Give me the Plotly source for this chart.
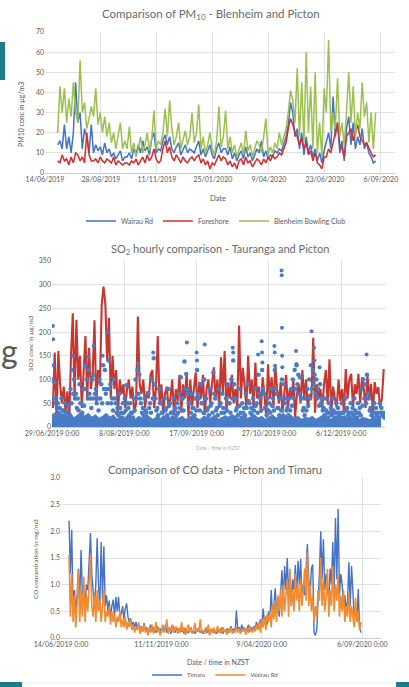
import pandas as pd
import plotly.graph_objects as go

W, H = 409, 687
FONT = "Lato"
GRID = "#D9D9D9"
TXT = "#595959"

# ---------------- PM10 (3-day samples from 1/07/2019) ----------------
pm_start = "2019-07-01"
pm_wairau = [14, 16, 12, 24, 12, 18, 10, 20, 45, 25, 30, 12, 22, 18, 10, 24,
             10, 14, 11, 13, 9, 15, 10, 12, 8, 10, 7, 9, 11, 6, 8,
             8, 10, 7, 12, 9, 14, 10, 16, 11, 13, 9, 17, 20, 10, 12,
             11, 16, 19, 14, 18, 12, 10, 13, 15, 9, 12, 14, 10, 12, 11,
             10, 13, 16, 9, 12, 8, 11, 14, 9, 7, 12, 15, 10, 12,
             12, 9, 13, 7, 10, 6, 9, 11, 7, 13, 8, 10, 6, 9, 12,
             10, 16, 8, 11, 7, 9, 8, 11, 10, 12, 11, 14, 18, 24, 35,
             30, 18, 22, 12, 20, 9, 18, 10, 14, 8, 12, 6, 10, 5, 11,
             15, 20, 12, 38, 18, 25, 10, 16, 6, 22, 28, 14, 25, 12, 18, 14, 22, 12, 15, 10, 8, 5, 6]
pm_foreshore = [6, 5, 9, 6, 7, 4, 8, 5, 10, 9, 6, 8, 5, 20, 9, 6,
                6, 7, 5, 8, 6, 5, 7, 6, 5, 8, 4, 6, 5, 4, 5,
                5, 4, 6, 5, 7, 4, 6, 8, 5, 9, 6, 8, 12, 7, 5,
                6, 12, 16, 10, 13, 8, 6, 9, 7, 5, 8, 6, 5, 7, 8,
                6, 8, 9, 5, 7, 4, 6, 2, 5, 4, 7, 9, 6, 8,
                7, 4, 6, 3, 5, 2, 6, 7, 4, 8, 5, 6, 3, 5, 7,
                6, 4, 7, 5, 8, 6, 9, 7, 8, 10, 9, 12, 15, 22, 27,
                24, 20, 18, 14, 17, 12, 15, 9, 11, 6, 10, 5, 4, 2, 8,
                8, 12, 10, 15, 20, 25, 14, 12, 8, 18, 20, 22, 16, 20, 24, 18, 16, 14, 15, 12, 10, 8, 9]
pm_blenheim = [20, 43, 30, 42, 25, 37, 28, 45, 30, 25, 56, 30, 35, 22, 27, 33,
               28, 42, 24, 30, 20, 28, 18, 25, 15, 20, 12, 18, 25, 12, 16,
               12, 23, 10, 15, 8, 12, 18, 10, 14, 20, 11, 17, 31, 12, 16,
               14, 20, 32, 18, 36, 22, 14, 18, 25, 12, 16, 21, 14, 18, 30,
               15, 20, 34, 12, 18, 10, 14, 20, 12, 9, 16, 33, 13, 18,
               31, 12, 18, 10, 14, 8, 12, 15, 9, 21, 11, 14, 8, 12, 16,
               14, 10, 18, 27, 9, 13, 10, 15, 12, 20, 14, 18, 22, 30, 41,
               36, 25, 52, 18, 45, 15, 60, 20, 43, 12, 50, 10, 25, 8, 42,
               30, 66, 20, 30, 22, 47, 18, 25, 14, 30, 50, 25, 43, 18, 30, 22, 45, 28, 35, 15, 30, 12, 30]
pm_tick_dates = ["2019-06-14", "2019-08-28", "2019-11-11", "2020-01-25",
                 "2020-04-09", "2020-06-23", "2020-09-06"]
pm_tick_labels = ["14/06/2019", "28/08/2019", "11/11/2019", "25/01/2020",
                  "9/04/2020", "23/06/2020", "6/09/2020"]
pm_yticks = [0, 10, 20, 30, 40, 50, 60, 70]

# ---------------- SO2 (daily from 29/06/2019) ----------------
so2_start = "2019-06-29"
so2_red = [40, 157, 20, 160, 90, 50, 85, 30, 75, 10,
           150, 240, 60, 226, 100, 150, 40, 120, 192, 60,
           167, 80, 110, 225, 50, 120, 90, 258, 296, 260,
           140, 230, 60, 150, 80, 120, 30, 100, 70, 90,
           40, 80, 100, 60, 85, 30, 50, 233, 90, 70,
           100, 40, 75, 60, 110, 120, 40, 80, 192, 50,
           90, 30, 70, 85, 40, 60, 100, 25, 80, 55,
           110, 30, 90, 60, 115, 20, 100, 45, 80, 115,
           40, 95, 60, 110, 25, 80, 100, 50, 90, 126,
           60, 100, 40, 147, 70, 160, 30, 90, 60, 110,
           50, 80, 40, 214, 60, 125, 90, 40, 150, 70,
           100, 40, 136, 60, 85, 30, 105, 70, 20, 132,
           60, 105, 40, 130, 80, 50, 95, 30, 70, 110,
           40, 80, 60, 100, 20, 70, 90, 50, 120, 60,
           100, 40, 70, 60, 188, 30, 90, 60, 80, 40,
           90, 120, 50, 143, 30, 85, 60, 40, 100, 55,
           80, 30, 122, 60, 100, 112, 40, 90, 70, 112,
           50, 105, 80, 40, 110, 60, 91, 30, 95, 70,
           84, 40, 60, 122]
so2_blue_upper = [100, 95, 60, 50, 40, 60, 35, 50, 30, 45,
                  80, 120, 100, 70, 60, 90, 50, 80, 130, 100,
                  120, 60, 100, 110, 80, 60, 100, 90, 130, 120,
                  80, 140, 90, 60, 100, 50, 40, 70, 30, 50,
                  60, 88, 40, 50, 30, 60, 100, 120, 110, 50,
                  40, 60, 30, 70, 50, 100, 145, 60, 40, 80,
                  50, 30, 60, 40, 80, 50, 30, 60, 40, 50,
                  70, 105, 60, 138, 112, 80, 50, 70, 40, 60,
                  120, 60, 90, 50, 100, 60, 40, 80, 50, 115,
                  60, 40, 80, 50, 70, 30, 60, 90, 50, 100,
                  140, 60, 40, 80, 30, 50, 40, 70, 91, 50,
                  40, 60, 80, 50, 110, 60, 120, 70, 40, 60,
                  50, 80, 60, 120, 70, 40, 60, 100, 90, 60,
                  40, 60, 80, 100, 120, 130, 110, 105, 60, 40,
                  60, 80, 100, 130, 120, 110, 100, 80, 90, 60,
                  40, 60, 30, 50, 40, 60, 30, 50, 40, 30,
                  50, 30, 60, 40, 30, 50, 40, 60, 30, 50,
                  40, 80, 100, 90, 110, 60, 40, 30, 50, 40,
                  30, 50, 40, 30]
so2_blue_mid = [60, 50, 40, 30, 25, 35, 20, 30, 20, 25,
                50, 70, 60, 40, 35, 50, 30, 45, 80, 60,
                70, 40, 60, 70, 50, 35, 60, 50, 80, 70,
                50, 80, 50, 35, 60, 30, 25, 40, 20, 30,
                35, 50, 25, 30, 20, 35, 60, 70, 60, 30,
                25, 35, 20, 40, 30, 60, 90, 35, 25, 50,
                30, 20, 35, 25, 45, 30, 20, 35, 25, 30,
                40, 60, 35, 80, 70, 50, 30, 40, 25, 35,
                70, 35, 50, 30, 60, 35, 25, 45, 30, 70,
                35, 25, 45, 30, 40, 20, 35, 50, 30, 60,
                90, 35, 25, 45, 20, 30, 25, 40, 55, 30,
                25, 35, 45, 30, 70, 35, 80, 40, 25, 35,
                30, 45, 35, 80, 40, 25, 35, 60, 50, 35,
                25, 35, 45, 60, 80, 90, 70, 60, 35, 25,
                35, 45, 60, 80, 90, 70, 60, 45, 50, 35,
                25, 35, 20, 30, 25, 35, 20, 30, 25, 20,
                30, 20, 35, 25, 20, 30, 25, 35, 20, 30,
                25, 45, 60, 50, 70, 35, 25, 20, 30, 25,
                20, 30, 25, 20]
so2_blue_floor = [25, 30, 20, 28, 22, 30, 18, 25, 30, 22, 28, 20, 25, 18, 22, 28, 20, 25,
                  15, 22, 18, 25, 20, 15, 22, 18, 25, 20, 15, 22, 18, 20, 25, 15, 20, 18,
                  22, 15, 20, 25, 18, 15, 22, 20, 18, 25, 15, 20, 18, 22, 25, 20, 15, 22,
                  18, 20, 25, 18, 22, 15, 20, 25, 18, 22, 28, 20, 25, 18, 22, 15, 20, 18,
                  22, 15, 20, 25, 18, 15, 20, 22, 18, 15, 20, 18, 22, 15, 20, 18, 15, 20,
                  18, 22]
so2_peak_days = [0.5, 0.6, 0.7, 11.6, 20, 23, 28, 31, 47.5, 56, 74.6, 80, 80.2, 84.5,
                 100, 100.2, 114, 116, 116.2, 116.4, 123, 123.2, 123.4, 127, 127.1,
                 127.2, 127.3, 127.4, 135, 135.2, 143.6, 145, 145.2, 148, 174]
so2_peak_values = [213, 185, 130, 150, 148, 171, 150, 200, 135, 157, 178, 157, 140, 174,
                   167, 157, 153, 181, 157, 136, 171, 157, 129, 330, 320,
                   209, 150, 126, 160, 133, 202, 167, 140, 126, 153]
so2_tick_dates = ["2019-06-29", "2019-08-08", "2019-09-17", "2019-10-27", "2019-12-06"]
so2_tick_labels = ["29/06/2019 0:00", "8/08/2019 0:00", "17/09/2019 0:00",
                   "27/10/2019 0:00", "6/12/2019 0:00"]
so2_yticks = [0, 50, 100, 150, 200, 250, 300, 350]

# ---------------- CO (2-day samples from 26/06/2019) ----------------
co_start = "2019-06-26"
co_timaru = [2.2, 1.2, 2.03, 0.6, 0.9, 0.5, 0.8, 1.3, 0.7, 1.65,
             0.8, 1.0, 0.6, 1.0, 0.9, 1.6, 1.97, 1.2, 0.9, 0.6,
             1.0, 1.87, 1.0, 0.6, 1.8, 0.7, 1.72, 0.6, 0.8, 0.5,
             0.7, 0.4, 0.6, 0.72, 0.4, 0.77, 0.5, 0.77, 0.4, 0.45,
             0.6, 0.35, 0.55, 0.65, 0.4, 0.3, 0.37, 0.25, 0.3, 0.2,
             0.3, 0.18, 0.25, 0.15, 0.22, 0.12, 0.28, 0.15, 0.2, 0.1,
             0.18, 0.25, 0.12, 0.2, 0.15, 0.1, 0.22, 0.14, 0.18, 0.1,
             0.2, 0.12, 0.25, 0.1, 0.16, 0.2, 0.08, 0.15, 0.22, 0.1,
             0.14, 0.18, 0.1, 0.2, 0.12, 0.15, 0.08, 0.18, 0.12, 0.1,
             0.15, 0.2, 0.1, 0.14, 0.08, 0.16, 0.12, 0.18, 0.1, 0.13,
             0.08, 0.15, 0.12, 0.1, 0.18, 0.06, 0.12, 0.15, 0.1, 0.14,
             0.08, 0.12, 0.16, 0.1, 0.2, 0.08, 0.14, 0.12, 0.18, 0.1,
             0.15, 0.22, 0.12, 0.18, 0.1, 0.52, 0.15, 0.2, 0.12, 0.25,
             0.15, 0.2, 0.1, 0.18, 0.25, 0.12, 0.2, 0.15, 0.22, 0.18,
             0.3, 0.2, 0.25, 0.35, 0.2, 0.55, 0.3, 0.4, 0.25, 0.5,
             0.35, 0.9, 0.4, 0.6, 0.93, 0.5, 0.7, 0.4, 0.8, 1.27,
             0.7, 1.35, 0.9, 1.5, 0.8, 1.2, 0.6, 1.1, 0.9, 1.37,
             0.8, 1.45, 1.0, 1.48, 0.7, 1.0, 0.8, 1.2, 1.76, 1.1,
             0.8, 1.3, 1.38, 0.1, 0.05, 0.15, 0.6, 1.2, 2.0, 1.1,
             1.85, 0.9, 1.2, 1.0, 0.7, 1.3, 1.0, 1.8, 0.9, 2.25,
             1.1, 2.42, 0.8, 1.2, 1.0, 0.6, 0.8, 0.5, 0.7, 1.42,
             0.6, 1.35, 0.9, 0.4, 0.5, 0.3, 0.92, 0.2, 0.1]
co_wairau = [1.55, 0.4, 1.2, 0.3, 0.8, 0.2, 0.6, 1.25, 0.3, 0.9,
             0.4, 1.15, 0.3, 0.8, 0.5, 1.0, 1.55, 0.6, 0.4, 0.8,
             0.3, 0.9, 0.5, 0.7, 0.3, 0.6, 0.9, 0.3, 0.5, 0.4,
             0.6, 0.25, 0.5, 0.3, 0.45, 0.2, 0.4, 0.3, 0.5, 0.2,
             0.35, 0.2, 0.4, 0.15, 0.3, 0.2, 0.35, 0.15, 0.25, 0.1,
             0.2, 0.15, 0.3, 0.08, 0.2, 0.12, 0.25, 0.1, 0.18, 0.05,
             0.2, 0.1, 0.25, 0.08, 0.15, 0.3, 0.1, 0.2, 0.05, 0.15,
             0.25, 0.1, 0.18, 0.35, 0.08, 0.2, 0.12, 0.25, 0.1, 0.15,
             0.22, 0.08, 0.18, 0.1, 0.3, 0.12, 0.2, 0.06, 0.15, 0.25,
             0.1, 0.2, 0.08, 0.15, 0.28, 0.1, 0.18, 0.12, 0.35, 0.1,
             0.15, 0.08, 0.2, 0.12, 0.25, 0.05, 0.18, 0.1, 0.2, 0.08,
             0.15, 0.22, 0.1, 0.18, 0.08, 0.2, 0.12, 0.15, 0.06, 0.18,
             0.1, 0.2, 0.08, 0.15, 0.12, 0.2, 0.1, 0.18, 0.08, 0.15,
             0.12, 0.2, 0.06, 0.18, 0.1, 0.22, 0.15, 0.1, 0.2, 0.12,
             0.25, 0.15, 0.3, 0.1, 0.35, 0.2, 0.4, 0.15, 0.45, 0.3,
             0.5, 0.2, 0.6, 0.35, 0.7, 0.3, 0.8, 0.5, 0.9, 0.4,
             1.0, 0.5, 0.8, 1.1, 0.4, 1.3, 0.6, 0.9, 0.5, 1.2,
             0.7, 1.0, 0.5, 1.1, 0.6, 0.9, 1.3, 0.7, 1.6, 0.6,
             1.0, 0.5, 0.8, 0.3, 0.6, 0.4, 0.9, 0.7, 1.5, 0.6,
             1.1, 0.5, 0.8, 1.3, 0.4, 0.9, 0.6, 1.35, 0.5, 1.0,
             0.7, 1.2, 0.4, 0.8, 0.5, 0.9, 0.3, 0.6, 0.4, 0.85,
             0.3, 0.6, 0.4, 0.2, 0.75, 0.3, 0.5, 0.15, 0.3]
co_tick_dates = ["2019-06-14", "2019-11-11", "2020-04-09", "2020-09-06"]
co_tick_labels = ["14/06/2019 0:00", "11/11/2019 0:00", "9/04/2020 0:00", "6/09/2020 0:00"]
co_yticks = [0.0, 0.5, 1.0, 1.5, 2.0, 2.5, 3.0]


def px_x(x):
    return x / W


def px_y(y):
    return 1 - y / H


fig = go.Figure()

BLUE_SO2 = "#4A7CC6"

# PM10 traces
pm_d = lambda s: pd.date_range(pm_start, periods=len(s), freq="3D")
fig.add_trace(go.Scatter(x=pm_d(pm_wairau), y=pm_wairau, mode="lines", name="Wairau Rd",
                         line=dict(color="#4472C4", width=1.5), xaxis="x", yaxis="y", legend="legend"))
fig.add_trace(go.Scatter(x=pm_d(pm_foreshore), y=pm_foreshore, mode="lines", name="Foreshore",
                         line=dict(color="#D0302C", width=1.5), xaxis="x", yaxis="y", legend="legend"))
fig.add_trace(go.Scatter(x=pm_d(pm_blenheim), y=pm_blenheim, mode="lines", name="Blenheim Bowling Club",
                         line=dict(color="#9BC04F", width=1.5), xaxis="x", yaxis="y", legend="legend"))

# SO2 traces
so2_t0 = pd.Timestamp(so2_start)
fig.add_trace(go.Scatter(x=pd.date_range(so2_start + " 12:00", periods=len(so2_red), freq="D"),
                         y=so2_red, mode="lines", line=dict(color="#C8372F", width=2.1),
                         xaxis="x2", yaxis="y2", showlegend=False))
fig.add_trace(go.Scatter(x=pd.date_range(so2_start, periods=len(so2_blue_floor), freq="2D"),
                         y=so2_blue_floor, mode="lines", fill="tozeroy", fillcolor=BLUE_SO2,
                         line=dict(color=BLUE_SO2, width=1.5), xaxis="x2", yaxis="y2", showlegend=False))
fig.add_trace(go.Scatter(x=pd.date_range(so2_start + " 18:00", periods=len(so2_blue_mid), freq="D"),
                         y=so2_blue_mid, mode="markers",
                         marker=dict(color=BLUE_SO2, size=4.5), xaxis="x2", yaxis="y2", showlegend=False))
fig.add_trace(go.Scatter(x=pd.date_range(so2_start + " 06:00", periods=len(so2_blue_upper), freq="D"),
                         y=so2_blue_upper, mode="markers",
                         marker=dict(color=BLUE_SO2, size=4.5), xaxis="x2", yaxis="y2", showlegend=False))
fig.add_trace(go.Scatter(x=[so2_t0 + pd.Timedelta(days=d) for d in so2_peak_days],
                         y=so2_peak_values, mode="markers",
                         marker=dict(color=BLUE_SO2, size=4), xaxis="x2", yaxis="y2", showlegend=False))

# CO traces
co_d = lambda s: pd.date_range(co_start, periods=len(s), freq="2D")
fig.add_trace(go.Scatter(x=co_d(co_timaru), y=co_timaru, mode="lines", name="Timaru",
                         line=dict(color="#4472C4", width=1.4), xaxis="x3", yaxis="y3", legend="legend2"))
fig.add_trace(go.Scatter(x=co_d(co_wairau), y=co_wairau, mode="lines", name="Wairau Rd",
                         line=dict(color="#F28B30", width=1.6), xaxis="x3", yaxis="y3", legend="legend2"))

tickf = dict(family=FONT, size=7, color=TXT)


def xax(dom, rng, tv, tt, anchor):
    return dict(domain=dom, range=rng, type="date", tickvals=tv, ticktext=tt,
                showgrid=True, gridcolor=GRID, gridwidth=0.8, showline=True, linecolor="#BFBFBF",
                linewidth=0.8, ticks="", tickfont=tickf, anchor=anchor, zeroline=False, fixedrange=True,
                automargin=False)


def yax(dom, rng, tv, anchor, fmt=None):
    d = dict(domain=dom, range=rng, tickvals=tv, showgrid=True, gridcolor=GRID, gridwidth=0.8,
             showline=False, ticks="", tickfont=tickf, anchor=anchor, zeroline=False, fixedrange=True,
             automargin=False)
    if fmt:
        d["tickformat"] = fmt
    return d


fig.update_layout(
    width=W, height=H, autosize=False, margin=dict(l=0, r=0, t=0, b=0, pad=0, autoexpand=False),
    paper_bgcolor="white", plot_bgcolor="white",
    font=dict(family=FONT, color=TXT),
    hovermode=False,
    xaxis=xax([px_x(45), px_x(395)], ["2019-06-14", "2020-09-25"], pm_tick_dates, pm_tick_labels, "y"),
    yaxis=yax([px_y(173), px_y(32)], [0, 70], pm_yticks, "x"),
    xaxis2=xax([px_x(52), px_x(385)], ["2019-06-29", "2019-12-30 05:00"], so2_tick_dates, so2_tick_labels, "y2"),
    yaxis2=yax([px_y(427), px_y(261)], [0, 350], so2_yticks, "x2"),
    xaxis3=xax([px_x(61), px_x(381)], ["2019-06-14", "2020-10-04"], co_tick_dates, co_tick_labels, "y3"),
    yaxis3=yax([px_y(638), px_y(478)], [0, 3], co_yticks, "x3", ".1f"),
    legend=dict(orientation="h", x=px_x(216), y=px_y(221), xanchor="center", yanchor="middle",
                font=dict(family=FONT, size=7, color=TXT), itemwidth=30, bgcolor="rgba(0,0,0,0)"),
    legend2=dict(orientation="h", x=px_x(215), y=px_y(675), xanchor="center", yanchor="middle",
                 font=dict(family=FONT, size=6, color=TXT), itemwidth=30, bgcolor="rgba(0,0,0,0)"),
    showlegend=True,
)

ann = []
TITLE_C = "#6A6A6A"


def text(x, y, s, size, color=TXT, angle=0, anchor="center", family=FONT):
    ann.append(dict(x=px_x(x), y=px_y(y), xref="paper", yref="paper", text=s, showarrow=False,
                    font=dict(family=family, size=size, color=color), textangle=angle,
                    xanchor=anchor, yanchor="middle", borderpad=0))


text(211, 14, "Comparison of PM<sub>10</sub> - Blenheim and Picton", 11.5, color=TITLE_C)
text(21, 115, "PM10 conc in µg/m3", 7, angle=-90)
text(218, 198, "Date", 7.5)
text(220, 249, "SO<sub>2</sub> hourly comparison - Tauranga and Picton", 11, color=TITLE_C)
text(30, 343, "SO2 conc in µg/m3", 6.5, angle=-90)
text(218, 448, "Date / time in NZST", 5, color="#B0B0B0")
text(215, 469, "Comparison of CO data - Picton and Timaru", 11.2, color=TITLE_C)
text(35, 559, "CO concentration in mg/m3", 6.5, angle=-90)
text(218, 662, "Date / time in NZST", 7)
# slide text fragment at left edge
text(0, 350, "g", 32, color="#5A5A5A", anchor="left", family="Lato")
fig.update_layout(annotations=ann)

shapes = [
    dict(type="rect", xref="paper", yref="paper", x0=px_x(0), x1=px_x(5), y0=px_y(80), y1=px_y(42),
         fillcolor="#1F7A8C", line=dict(width=0), layer="above"),
    dict(type="rect", xref="paper", yref="paper", x0=px_x(0), x1=px_x(22), y0=px_y(687), y1=px_y(682),
         fillcolor="#1F7A8C", line=dict(width=0), layer="above"),
    dict(type="rect", xref="paper", yref="paper", x0=px_x(396), x1=px_x(409), y0=px_y(687), y1=px_y(682),
         fillcolor="#1F7A8C", line=dict(width=0), layer="above"),
    dict(type="line", xref="paper", yref="paper", x0=px_x(22), x1=px_x(396), y0=px_y(683), y1=px_y(683),
         line=dict(color="#E6EEF0", width=1)),
]
fig.update_layout(shapes=shapes)

fig.write_html("out.html", config={"displayModeBar": False, "staticPlot": True},
               post_script="document.body.style.margin='0';document.body.style.overflow='hidden';")
